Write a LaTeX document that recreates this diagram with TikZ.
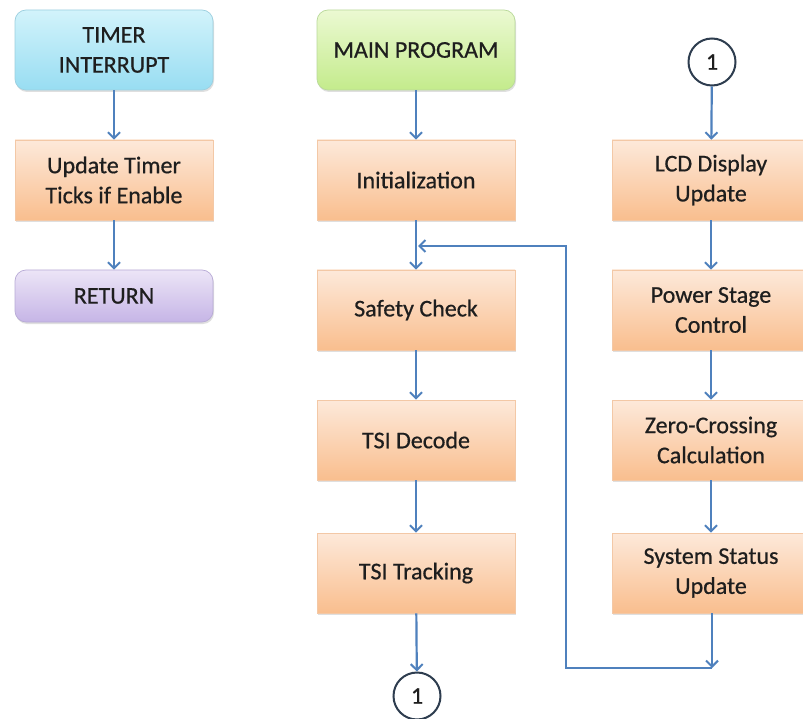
\documentclass[tikz,border=0pt]{standalone}
\usepackage{fontspec}
\setmainfont[FakeBold=0.6]{Carlito}
\usetikzlibrary{arrows.meta,shadows,calc}
\definecolor{arr}{HTML}{4F81BD}
\definecolor{orT}{HTML}{FDE9DA}
\definecolor{orB}{HTML}{F9BE8E}
\definecolor{orD}{HTML}{F3C8A6}
\definecolor{cyT}{HTML}{D2F3FB}
\definecolor{cyB}{HTML}{98DDF2}
\definecolor{cyD}{HTML}{9CCFDF}
\definecolor{grT}{HTML}{EBF9D2}
\definecolor{grB}{HTML}{C4EB8C}
\definecolor{grD}{HTML}{B9D99A}
\definecolor{puT}{HTML}{ECE5F7}
\definecolor{puB}{HTML}{C6B5E6}
\definecolor{puD}{HTML}{B8ABD6}
\definecolor{txt}{HTML}{1E1E1E}
\definecolor{circ}{HTML}{2E3D4F}
\begin{document}
\begin{tikzpicture}[x=1pt,y=-1pt,
  box/.style={minimum width=198pt, minimum height=80pt, inner sep=0pt, align=center,
    font=\fontsize{24}{30}\selectfont, text=txt, line width=0.7pt,
    drop shadow={opacity=0.25, shadow xshift=1pt, shadow yshift=-2pt}},
  proc/.style={box, top color=orT, bottom color=orB, draw=orD},
  term/.style={box, rounded corners=11pt},
  conn/.style={circle, draw=circ, line width=2pt, fill=white, minimum size=47pt, inner sep=0pt,
    font=\fontsize{24}{26}\selectfont, text=txt},
  flow/.style={draw=arr, line width=2.2pt, -{Straight Barb[length=6pt,width=12pt,line width=2pt]}},
  line/.style={draw=arr, line width=2.2pt}
]
\useasboundingbox[fill=white] (0,0) rectangle (803,719);

% left column
\node[term, top color=cyT, bottom color=cyB, draw=cyD] (timer) at (114,50) {TIMER\\INTERRUPT};
\node[proc] (upd) at (114,180) {Update Timer\\Ticks if Enable};
\node[term, top color=puT, bottom color=puB, draw=puD, minimum height=52pt] (ret) at (114,296) {RETURN};

% middle column
\node[term, top color=grT, bottom color=grB, draw=grD] (main) at (416,50) {MAIN PROGRAM};
\node[proc] (init) at (416,180) {Initialization};
\node[proc] (safe) at (416,310) {Safety Check};
\node[proc] (dec) at (416,440) {TSI Decode};
\node[proc] (trk) at (416,573) {TSI Tracking};
\node[conn] (c1b) at (417,696) {1};

% right column
\node[conn] (c1t) at (712,62) {1};
\node[proc] (lcd) at (711,180) {LCD Display\\Update};
\node[proc] (pow) at (711,310) {Power Stage\\Control};
\node[proc] (zc) at (711,440) {Zero-Crossing\\Calculation};
\node[proc] (sys) at (711,573) {System Status\\Update};

% arrows
\draw[flow] (timer) -- (upd);
\draw[flow] (upd) -- (ret);
\draw[flow] (main) -- (init);
\draw[flow] (init) -- (safe);
\draw[flow] (safe) -- (dec);
\draw[flow] (dec) -- (trk);
\draw[flow] (trk) -- (c1b);
\draw[flow] (c1t) -- (lcd);
\draw[flow] (lcd) -- (pow);
\draw[flow] (pow) -- (zc);
\draw[flow] (zc) -- (sys);

\coordinate (j) at (712,668);
\coordinate (k1) at (566,668);
\coordinate (k2) at (566,246);
\coordinate (m) at (418,246);
\draw[flow] (sys.south -| j) -- (j);
\draw[flow] (j) -- (k1) -- (k2) -- (m);
\end{tikzpicture}
\end{document}
